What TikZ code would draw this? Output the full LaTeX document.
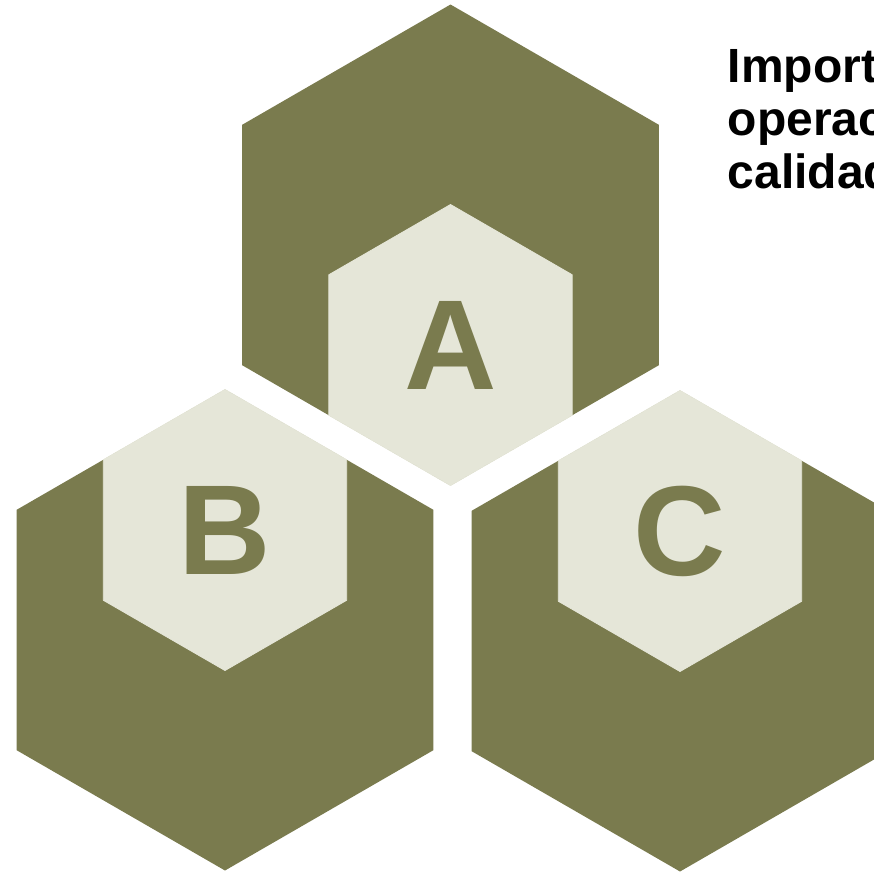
\documentclass[tikz,border=0pt]{standalone}
\usepackage{fontspec}
\setmainfont{Liberation Sans}
\usepackage{tikz}
\definecolor{olive}{RGB}{122,123,78}
\definecolor{pale}{RGB}{229,230,216}

\begin{document}
\begin{tikzpicture}[x=1pt,y=-1pt]
  \useasboundingbox (0,0) rectangle (874,871);
  \clip (0,0) rectangle (874,871);
  \coordinate (hA) at (450.5,245);
  \coordinate (hB) at (225,630);
  \coordinate (hC) at (680,631);
  \coordinate (iA) at (450.5,345);
  \coordinate (iB) at (225,530);
  \coordinate (iC) at (680,531);
  \foreach \c in {hA,hB,hC}
    \fill[olive] (\c) +(90:240.5) -- +(150:240.5) -- +(210:240.5) -- +(270:240.5) -- +(330:240.5) -- +(30:240.5) -- cycle;
  \foreach \c in {iA,iB,iC}
    \filldraw[pale,line width=0.8pt,line join=round] (\c) +(90:140.5) -- +(150:140.5) -- +(210:140.5) -- +(270:140.5) -- +(330:140.5) -- +(30:140.5) -- cycle;
  \node[text=olive,font=\fontsize{128}{128}\selectfont\bfseries] (lA) at (iA) {A};
  \node[text=olive,font=\fontsize{128}{128}\selectfont\bfseries] (lB) at (iB) {B};
  \node[text=olive,font=\fontsize{128}{128}\selectfont\bfseries] (lC) at (iC) {C};
  \node[anchor=base west,inner sep=0pt,align=left,font=\fontsize{48}{53}\selectfont\bfseries] (title) at (727.5,188) {Importancia\\operaciones\\calidad};
\end{tikzpicture}
\end{document}
